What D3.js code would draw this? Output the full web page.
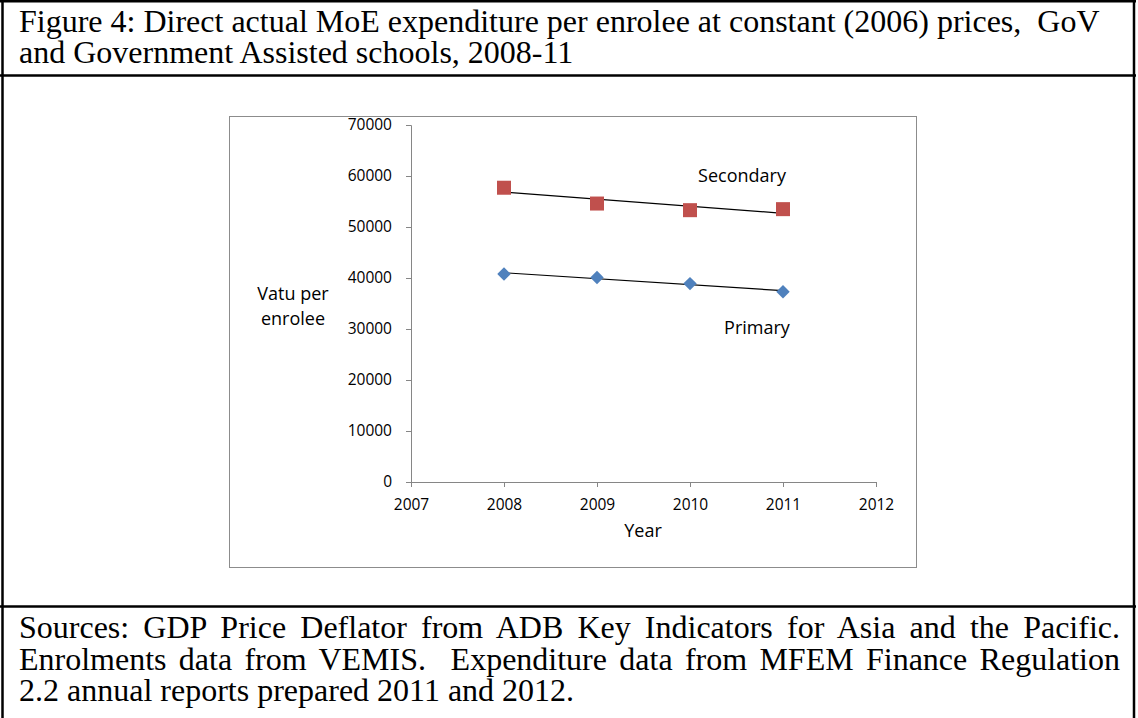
<!DOCTYPE html>
<html>
<head>
<meta charset="utf-8">
<script src="https://cdn.jsdelivr.net/npm/d3@7"></script>
<style>
  body { margin: 0; background: #fff; }
  svg { display: block; }
</style>
</head>
<body>
<div id="chart"></div>
<script>
var W = 1138, H = 718;

// data
var years = [2008, 2009, 2010, 2011];
var secondary = [57700, 54600, 53300, 53500];
var primary = [40800, 40100, 38900, 37300];
var yTicks = [0, 10000, 20000, 30000, 40000, 50000, 60000, 70000];
var xTicks = [2007, 2008, 2009, 2010, 2011, 2012];

var titleLines = [
  "Figure 4: Direct actual MoE expenditure per enrolee at constant (2006) prices,  GoV",
  "and Government Assisted schools, 2008-11"
];
var sourceLines = [
  "Sources: GDP Price Deflator from ADB Key Indicators for Asia and the Pacific.",
  "Enrolments data from VEMIS.  Expenditure data from MFEM Finance Regulation",
  "2.2 annual reports prepared 2011 and 2012."
];

var svg = d3.select("#chart").append("svg")
  .attr("width", W)
  .attr("height", H);

var serif = "Liberation Serif, Times New Roman, serif";

// table frame
svg.append("line").attr("x1", 2.5).attr("x2", 2.5).attr("y1", 0).attr("y2", H)
  .attr("stroke", "#000").attr("stroke-width", 2.5);
svg.append("line").attr("x1", 1134).attr("x2", 1134).attr("y1", 0).attr("y2", H)
  .attr("stroke", "#000").attr("stroke-width", 2.5);
[1.2, 75.5, 606.5].forEach(function (y) {
  svg.append("line").attr("x1", 0).attr("x2", 1136).attr("y1", y).attr("y2", y)
    .attr("stroke", "#000").attr("stroke-width", 2.5);
});

// multi-line paragraph as one text element with tspans
function paragraph(lines, y0, step, justifyTo) {
  var t = svg.append("text")
    .attr("font-family", serif)
    .attr("font-size", "32px")
    .attr("fill", "#000")
    .style("white-space", "pre");
  t.selectAll("tspan")
    .data(lines)
    .enter()
    .append("tspan")
    .attr("x", 19)
    .attr("y", function (d, i) { return y0 + i * step; })
    .text(function (d) { return d; })
    .each(function (d, i) {
      if (!justifyTo || i === lines.length - 1) return;
      var len = this.getComputedTextLength();
      var gaps = d.split(" ").length - 1;
      d3.select(this).attr("word-spacing", (justifyTo - len) / gaps);
    });
}
paragraph(titleLines, 32, 31, null);
paragraph(sourceLines, 638, 31.5, 1101);

// chart box
svg.append("rect")
  .attr("x", 229.5).attr("y", 116.5)
  .attr("width", 687).attr("height", 451)
  .attr("fill", "#fff")
  .attr("stroke", "#8c8c8c")
  .attr("stroke-width", 1);

var x = d3.scaleLinear().domain([2007, 2012]).range([411, 876]);
var y = d3.scaleLinear().domain([0, 70000]).range([482, 125]);

var font = "Open Sans, Lato, sans-serif";

var yAxis = svg.append("g")
  .attr("transform", "translate(" + x(2007) + ",0)")
  .call(d3.axisLeft(y).tickValues(yTicks).tickSize(5).tickPadding(14).tickFormat(d3.format("d")));
var xAxis = svg.append("g")
  .attr("transform", "translate(0," + y(0) + ")")
  .call(d3.axisBottom(x).tickValues(xTicks).tickSize(5).tickPadding(12).tickFormat(d3.format("d")));

[yAxis, xAxis].forEach(function (g) {
  g.select(".domain").attr("stroke", "#868686");
  g.selectAll(".tick line").attr("stroke", "#868686");
  g.selectAll(".tick text")
    .attr("font-family", font)
    .attr("font-size", "15.5px")
    .attr("fill", "#000");
});

// linear trend lines
function trend(vals) {
  var mx = d3.mean(years), my = d3.mean(vals);
  var num = d3.sum(years, function (d, i) { return (d - mx) * (vals[i] - my); });
  var den = d3.sum(years, function (d) { return (d - mx) * (d - mx); });
  var b = num / den, a = my - b * mx;
  return [years[0], years[years.length - 1]].map(function (yr) { return [yr, a + b * yr]; });
}

var line = d3.line()
  .x(function (d) { return x(d[0]); })
  .y(function (d) { return y(d[1]); });

[secondary, primary].forEach(function (vals) {
  svg.append("path")
    .attr("d", line(trend(vals)))
    .attr("fill", "none")
    .attr("stroke", "#000")
    .attr("stroke-width", 1.2);
});

// secondary markers (squares)
svg.selectAll("rect.sec")
  .data(secondary)
  .enter()
  .append("rect")
  .attr("class", "sec")
  .attr("x", function (d, i) { return x(years[i]) - 7; })
  .attr("y", function (d) { return y(d) - 7; })
  .attr("width", 14)
  .attr("height", 14)
  .attr("fill", "#C0504D");

// primary markers (diamonds)
var diamond = d3.symbol().type(d3.symbolDiamond2).size(115);
svg.selectAll("path.pri")
  .data(primary)
  .enter()
  .append("path")
  .attr("class", "pri")
  .attr("d", diamond)
  .attr("transform", function (d, i) { return "translate(" + x(years[i]) + "," + y(d) + ")"; })
  .attr("fill", "#4F81BD");

// annotations
function label(txt, cx, cy) {
  svg.append("text")
    .attr("x", cx).attr("y", cy)
    .attr("text-anchor", "middle")
    .attr("font-family", font)
    .attr("font-size", "18px")
    .attr("fill", "#000")
    .text(txt);
}
label("Secondary", 742, 181.5);
label("Primary", 757, 333.5);
label("Year", 643, 536.5);
var yl = svg.append("text")
  .attr("text-anchor", "middle")
  .attr("font-family", font)
  .attr("font-size", "18px")
  .attr("fill", "#000");
yl.append("tspan").attr("x", 293).attr("y", 299.5).text("Vatu per");
yl.append("tspan").attr("x", 293).attr("y", 324.5).text("enrolee");
</script>
</body>
</html>
